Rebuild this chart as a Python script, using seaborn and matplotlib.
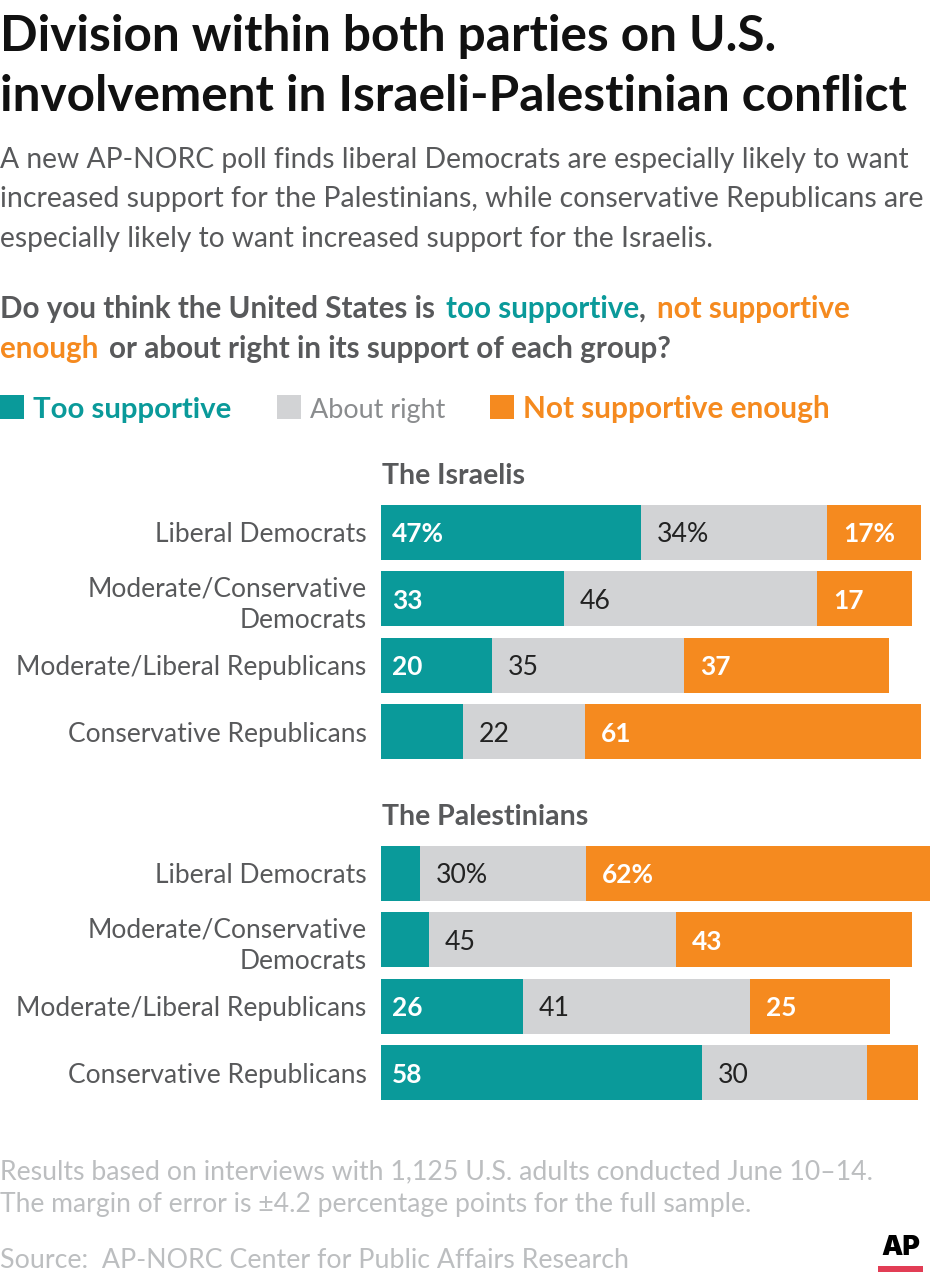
import matplotlib
matplotlib.use('Agg')
import matplotlib.pyplot as plt
import seaborn as sns
import pandas as pd

sns.set_theme(style='white')
plt.rcParams['font.family'] = ['Lato', 'DejaVu Sans']

GREEN = '#0a9a9a'
GRAY = '#d2d3d5'
ORANGE = '#f58a1f'
TEXT_GRAY = '#58595b'
FOOT_GRAY = '#bcbec0'

groups = ['Liberal Democrats', 'Moderate/Conservative\nDemocrats', 'Moderate/Liberal Republicans', 'Conservative Republicans']
israelis_too = [47.3, 33.3, 20.2, 14.9]
israelis_right = [33.8, 46.0, 34.9, 22.2]
israelis_not = [17.1, 17.3, 37.3, 61.1]
palest_too = [7.1, 8.7, 25.8, 58.4]
palest_right = [30.2, 44.9, 41.3, 30.0]
palest_not = [62.5, 42.9, 25.5, 9.3]

israelis_labels = [['47%', '33', '20', ''], ['34%', '46', '35', '22'], ['17%', '17', '37', '61']]
palest_labels = [['', '', '26', '58'], ['30%', '45', '41', '30'], ['62%', '43', '25', '']]

W, H = 934, 1280
fig = plt.figure(figsize=(W / 100, H / 100), dpi=100, facecolor='white')
renderer = fig.canvas.get_renderer()


# no condensed font is installed, so pick the size that gives the reference's text width
def fit(s, width, **kw):
    t = fig.text(0, 0, s, fontsize=20, **kw)
    w = t.get_window_extent(renderer).width
    t.remove()
    return 20 * width / w


label_size = fit('Moderate/Liberal Republicans', 350)
head_size = fit('The Palestinians', 207, fontweight='bold')
bold_num = fit('47%', 52, fontweight='bold')
reg_num = fit('34%', 52)


def stacked(ax, too, right, notsup, labels, heading):
    starts = [[0] * 4, too, [a + b for a, b in zip(too, right)]]
    pads = [2.0, 2.8, 2.9]
    for vals, left, col, labs, pad in zip([too, right, notsup], starts, [GREEN, GRAY, ORANGE], labels, pads):
        df = pd.DataFrame({'group': groups, 'value': vals})
        sns.barplot(data=df, y='group', x='value', left=left, color=col, saturation=1,
                    width=0.83, ax=ax, orient='h', linewidth=0)
        for i, lab in enumerate(labs):
            light = col != GRAY
            ax.text(left[i] + pad, i, lab, va='center_baseline', ha='left',
                    fontsize=bold_num if light else reg_num,
                    color='white' if light else '#222222', fontweight='bold' if light else 'normal')
    ax.set_xlim(0, 100)
    ax.set_ylim(3.5, -0.5)
    ax.set_xlabel('')
    ax.set_ylabel('')
    ax.set_xticks([])
    ax.tick_params(axis='y', length=0, pad=10.5, labelsize=label_size, labelcolor=TEXT_GRAY)
    for lab in ax.get_yticklabels():
        lab.set_linespacing(1.35)
    sns.despine(ax=ax, left=True, bottom=True)
    ax.text(0.2, -0.85, heading, fontsize=head_size, fontweight='bold', color=TEXT_GRAY, va='center', ha='left')


# 5.5 px per percentage point, bars start at x=381
ax1 = fig.add_axes([381 / W, 1 - 765 / H, 550 / W, 266 / H])
ax2 = fig.add_axes([381 / W, 1 - 1106 / H, 550 / W, 266 / H])
stacked(ax1, israelis_too, israelis_right, israelis_not, israelis_labels, 'The Israelis')
stacked(ax2, palest_too, palest_right, palest_not, palest_labels, 'The Palestinians')


def txt(x, y, s, **kw):
    return fig.text(x / W, 1 - y / H, s, va='baseline', **kw)


title_size = fit('involvement in Israeli-Palestinian conflict', 906, fontweight='bold')
txt(0, 51, 'Division within both parties on U.S.', fontsize=title_size, fontweight='bold', color='#111111')
txt(0, 111, 'involvement in Israeli-Palestinian conflict', fontsize=title_size, fontweight='bold', color='#111111')

sub_lines = ['A new AP-NORC poll finds liberal Democrats are especially likely to want',
             'increased support for the Palestinians, while conservative Republicans are',
             'especially likely to want increased support for the Israelis.']
for y, s, w in zip([168, 207, 247], sub_lines, [908, 925, 713]):
    txt(0, y, s, fontsize=fit(s, w), color=TEXT_GRAY)

# question with coloured words
q_size = fit('Do you think the United States is', 437, fontweight='bold')
q_parts = [(0, 318, 'Do you think the United States is', TEXT_GRAY), (446, 318, 'too supportive', GREEN),
           (639, 318, ',', TEXT_GRAY), (657, 318, 'not supportive', ORANGE),
           (0, 358, 'enough', ORANGE), (109, 358, 'or about right in its support of each group?', TEXT_GRAY)]
for x, y, s, col in q_parts:
    txt(x, y, s, fontsize=q_size, fontweight='bold', color=col)

# legend
for x0, x, s, col, bold, w in [(0, 33, 'Too supportive', GREEN, True, 199), (277, 310, 'About right', GRAY, False, 136),
                               (490, 523, 'Not supportive enough', ORANGE, True, 306)]:
    fig.patches.append(plt.Rectangle((x0 / W, 1 - 419 / H), 24 / W, 24 / H, transform=fig.transFigure, color=col, lw=0))
    weight = 'bold' if bold else 'normal'
    txt(x, 418, s, fontsize=fit(s, w, fontweight=weight), fontweight=weight, color=col if bold else '#8a8c8e')

foot = ['Results based on interviews with 1,125 U.S. adults conducted June 10–14.',
        'The margin of error is ±4.2 percentage points for the full sample.',
        'Source:  AP-NORC Center for Public Affairs Research']
for y, s, w in zip([1179, 1212, 1268], foot, [874, 753, 630]):
    txt(0, y, s, fontsize=fit(s, w), color=FOOT_GRAY)

# AP logo
ap_kw = dict(family='Inter', fontweight=900)
txt(881, 1255, 'AP', fontsize=fit('AP', 39, **ap_kw), color='black', **ap_kw)
fig.patches.append(plt.Rectangle((878 / W, 1 - 1272 / H), 45 / W, 6 / H, transform=fig.transFigure, color='#e23d55', lw=0))

fig.savefig('out.png', dpi=100)
